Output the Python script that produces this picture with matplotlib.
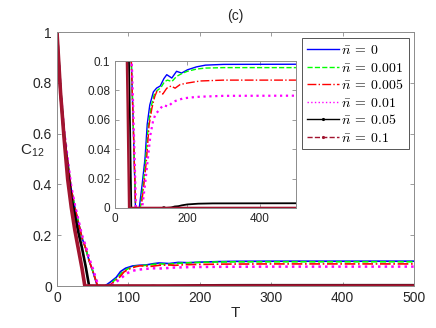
import matplotlib
matplotlib.use('Agg')
import matplotlib.pyplot as plt

plt.rcParams['font.family'] = ['Liberation Sans', 'DejaVu Sans']
plt.rcParams['mathtext.fontset'] = 'cm'

# n = 0 (blue)
t_n0 = [0, 5, 10, 15, 20, 25, 30, 35, 40, 45, 50, 56.5, 67, 75, 83, 89, 96, 106, 115, 125,
        135, 143, 157, 170, 184, 200, 225, 250, 300, 500]
c_n0 = [1, 0.76, 0.60, 0.49, 0.38, 0.31, 0.25, 0.19, 0.15, 0.10, 0.06, 0, 0, 0.016, 0.034, 0.057,
        0.070, 0.079, 0.0816, 0.083, 0.088, 0.0907, 0.0884, 0.093, 0.0918, 0.094, 0.096, 0.0972,
        0.0977, 0.0978]

# n = 0.001 (green)
t_n1 = [0, 5, 10, 15, 20, 25, 30, 35, 40, 45, 50, 57, 70, 78, 85, 92, 100, 108, 117, 127,
        137, 145, 157, 170, 185, 200, 225, 250, 300, 500]
c_n1 = [1, 0.76, 0.60, 0.49, 0.38, 0.31, 0.25, 0.19, 0.15, 0.10, 0.06, 0, 0, 0.016, 0.034, 0.056,
        0.069, 0.077, 0.080, 0.082, 0.086, 0.087, 0.086, 0.0895, 0.0915, 0.093, 0.0945, 0.0952,
        0.0955, 0.0955]

# n = 0.005 (red)
t_n2 = [0, 5, 10, 15, 20, 25, 30, 35, 40, 45, 50, 57, 72, 80, 87.5, 94, 102, 110, 116, 124,
        132, 143, 155, 166, 180, 200, 235, 300, 500]
c_n2 = [1, 0.76, 0.60, 0.49, 0.38, 0.31, 0.25, 0.19, 0.15, 0.10, 0.06, 0, 0, 0.016, 0.034, 0.056,
        0.068, 0.076, 0.0795, 0.079, 0.0775, 0.0815, 0.083, 0.0815, 0.084, 0.085, 0.0864, 0.087,
        0.087]

# n = 0.01 (magenta)
t_n3 = [0, 5, 10, 15, 20, 25, 30, 35, 40, 45, 50, 58, 75, 83, 91, 98, 105, 112, 120, 133,
        147, 161, 175, 189, 210, 235, 300, 500]
c_n3 = [1, 0.77, 0.61, 0.50, 0.39, 0.32, 0.26, 0.20, 0.16, 0.11, 0.07, 0, 0, 0.016, 0.034, 0.050,
        0.059, 0.064, 0.066, 0.070, 0.069, 0.0723, 0.0735, 0.0746, 0.0752, 0.0757, 0.0763, 0.0764]

# n = 0.05 (black)
t_n4 = [0, 5, 10, 15, 20, 25, 30, 35, 40, 45, 130, 135, 140, 155, 165, 175, 185, 200, 230, 270, 500]
c_n4 = [1, 0.76, 0.59, 0.455, 0.35, 0.28, 0.21, 0.15, 0.08, 0, 0, 0.0006, 0, 0.0003, 0.001,
        0.0012, 0.0018, 0.0024, 0.0029, 0.0031, 0.0032]

# n = 0.1 (dark red)
t_n5 = [0, 5, 10, 15, 20, 25, 30, 35, 39, 500]
c_n5 = [1, 0.76, 0.58, 0.42, 0.31, 0.22, 0.145, 0.07, 0, 0]

labels = [r'$\bar{n}\:=\:0$', r'$\bar{n}\:=\:0.001$', r'$\bar{n}\:=\:0.005$',
          r'$\bar{n}\:=\:0.01$', r'$\bar{n}\:=\:0.05$', r'$\bar{n}\:=\:0.1$']

series = [(t_n0, c_n0), (t_n1, c_n1), (t_n2, c_n2), (t_n3, c_n3), (t_n4, c_n4), (t_n5, c_n5)]
colors = ['#0000ff', '#00ff00', '#ff0000', '#ff00ff', '#000000', '#a2142f']
# the last two were drawn with a marker at every sample, so they read as solid thick lines
styles = ['-', '--', '-.', ':', '-', '-']
leg_styles = ['-', '--', '-.', ':', '-', '--']
lw_main = [1.2, 1.2, 1.2, 1.8, 1.9, 2.6]
lw_inset = [1.0, 1.0, 1.0, 1.6, 1.3, 1.8]
markers = [None, None, None, None, '.', '.']

axis_col = '#262626'
spine_col = '#8c8c8c'


def style_axes(ax, size):
    for s in ax.spines.values():
        s.set_color(spine_col)
        s.set_linewidth(0.7)
    ax.tick_params(direction='in', length=3, width=0.6, colors=spine_col,
                   labelcolor=axis_col, labelsize=size, top=True, right=True)


fig = plt.figure(figsize=(4.36, 3.28), dpi=100)
ax = fig.add_axes([0.1307, 0.128, 0.8188, 0.7744])

for (t, c), col, ls, lw in zip(series, colors, styles, lw_main):
    ax.plot(t, c, color=col, linestyle=ls, linewidth=lw)

ax.set_xlim(0, 500)
ax.set_ylim(0, 1)
ax.set_xticks([0, 100, 200, 300, 400, 500])
ax.set_yticks([0, 0.2, 0.4, 0.6, 0.8, 1])
ax.set_yticklabels(['0', '0.2', '0.4', '0.6', '0.8', '1'])
style_axes(ax, 10)
ax.set_xlabel('T', fontsize=11, color=axis_col, labelpad=1)
ax.set_ylabel(r'C$_{\mathregular{12}}$', fontsize=11, color=axis_col, rotation=0)
ax.yaxis.set_label_coords(-0.07, 0.5)
ax.set_title('(c)', fontsize=10, color=axis_col, pad=9)

# legend handles with markers like the original
leg_handles = []
for col, ls, mk in zip(colors, leg_styles, markers):
    lh, = ax.plot([], [], color=col, linestyle=ls, linewidth=1.0, marker=mk, markersize=2.5)
    leg_handles.append(lh)
leg = ax.legend(leg_handles, labels, loc='upper right', bbox_to_anchor=(0.985, 0.975),
                fontsize=10, frameon=True, fancybox=False, framealpha=1,
                edgecolor='#555555', handlelength=2.3, handletextpad=0.2,
                labelspacing=0.25, borderpad=0.35, borderaxespad=0)
leg.get_frame().set_linewidth(0.7)

# inset
axi = fig.add_axes([0.2638, 0.366, 0.415, 0.448])
for (t, c), col, ls, lw in zip(series, colors, styles, lw_inset):
    axi.plot(t, c, color=col, linestyle=ls, linewidth=lw)
axi.set_xlim(0, 500)
axi.set_ylim(0, 0.1)
axi.set_xticks([0, 200, 400])
axi.set_yticks([0, 0.02, 0.04, 0.06, 0.08, 0.1])
axi.set_yticklabels(['0', '0.02', '0.04', '0.06', '0.08', '0.1'])
style_axes(axi, 8.5)

fig.savefig('out.png', dpi=100)
